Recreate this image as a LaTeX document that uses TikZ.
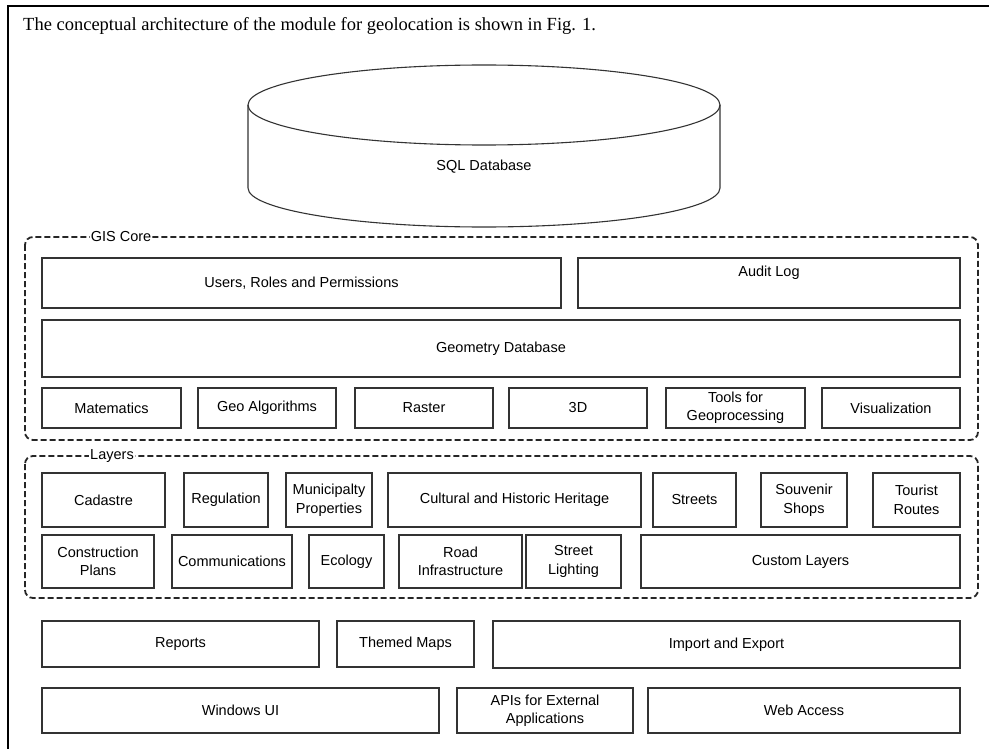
\documentclass[tikz,border=0pt]{standalone}
\usepackage{fontspec}
\setmainfont{Liberation Serif}
\setsansfont{Liberation Sans}

% block drawn between two corner points, text centred in it
\newcommand\blk[6]{%
  \pgfmathsetmacro\bw{#4-#2}\pgfmathsetmacro\bh{#5-#3}%
  \pgfmathsetmacro\bx{(#2+#4)/2}\pgfmathsetmacro\by{(#3+#5)/2}%
  \node[box, minimum width=\bw pt, minimum height=\bh pt] (#1) at (\bx,\by) {#6};}

\begin{document}
\begin{tikzpicture}[x=1pt,y=-1pt,
  box/.style={draw=black!80, line width=1.4pt, inner sep=0pt, align=center,
    font=\sffamily\fontsize{14.5}{18.5}\selectfont},
  txt/.style={inner sep=0pt, align=center, font=\sffamily\fontsize{14.5}{18.5}\selectfont},
  group/.style={draw=black!85, line width=1.8pt, dash pattern=on 6pt off 3pt,
    rounded corners=8pt},
  grouplabel/.style={fill=white, inner sep=1pt, font=\sffamily\fontsize{14.5}{16}\selectfont},
  cyl/.style={draw=black!80, line width=1.1pt},
  frame/.style={draw=black, line width=1.6pt},
]
\useasboundingbox (0,0) rectangle (989,749);

% page frame (top and left edges only)
\draw[frame] (989,6) -- (8,6) -- (8,749);

% caption line
\node[anchor=base west, inner sep=0pt, font=\fontsize{18.5}{20}\selectfont] (title) at (23,31)
  {The conceptual architecture of the module for geolocation is shown in Fig. 1.};

% database cylinder
\draw[cyl] (484,105) ellipse [x radius=236pt, y radius=40pt];
\draw[cyl] (248,105) -- (248,188) arc[start angle=180, end angle=360, x radius=236pt, y radius=39pt] -- (720,105);
\node[txt] (sql) at (484,167) {SQL Database};

% GIS core group
\draw[group] (25,237) rectangle (978,440);
\node[grouplabel] (gislabel) at (121,237) {GIS Core};

\blk{users}{42}{258}{561}{308}{Users, Roles and Permissions}
\blk{audit}{578}{258}{960}{308}{}
\node[txt] (auditlabel) at (769,273) {Audit Log};
\blk{geom}{42}{320}{960}{377}{Geometry Database}
\blk{mat}{42}{388}{181}{428}{Matematics}
\blk{geoalg}{198}{388}{336}{428}{Geo Algorithms}
\blk{raster}{355}{388}{493}{428}{Raster}
\blk{threed}{509}{388}{647}{428}{3D}
\blk{tools}{666}{388}{805}{428}{Tools for\\Geoprocessing}
\blk{vis}{822}{388}{960}{428}{Visualization}

% layers group
\draw[group] (25,456) rectangle (978,598);
\node[grouplabel] (layerslabel) at (112,456) {Layers};

\blk{cad}{42}{473}{165}{527}{Cadastre}
\blk{reg}{184}{473}{268}{527}{Regulation}
\blk{mun}{286}{473}{372}{527}{Municipalty\\Properties}
\blk{cult}{388}{473}{641}{527}{Cultural and Historic Heritage}
\blk{streets}{653}{473}{736}{527}{Streets}
\blk{souv}{761}{473}{847}{527}{Souvenir\\Shops}
\blk{tour}{873}{473}{960}{527}{Tourist\\Routes}

\blk{constr}{42}{535}{154}{588}{Construction\\Plans}
\blk{comm}{172}{535}{292}{588}{Communications}
\blk{eco}{309}{535}{384}{588}{Ecology}
\blk{road}{399}{535}{522}{588}{Road\\Infrastructure}
\blk{light}{526}{535}{621}{588}{Street\\Lighting}
\blk{custom}{641}{535}{960}{588}{Custom Layers}

% services and front ends
\blk{reports}{42}{621}{319}{667}{Reports}
\blk{themed}{337}{621}{474}{667}{Themed Maps}
\blk{import}{493}{621}{960}{668}{Import and Export}
\blk{windows}{42}{688}{439}{733}{Windows UI}
\blk{apis}{457}{688}{633}{733}{APIs for External\\Applications}
\blk{web}{648}{688}{960}{733}{Web Access}
\end{tikzpicture}
\end{document}
